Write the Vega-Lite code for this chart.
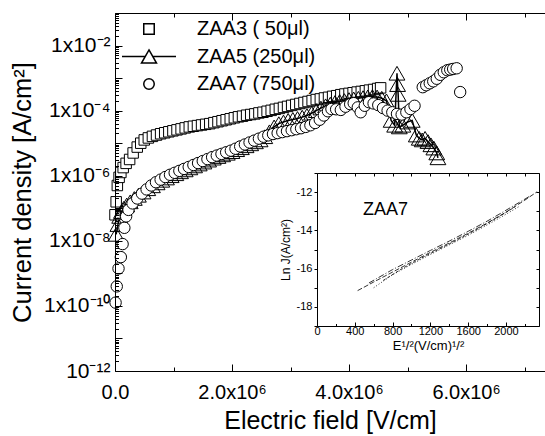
{
"$schema":"https://vega.github.io/schema/vega-lite/v6.json",
"width":430,"height":358,
"autosize":{"type":"none"},
"padding":{"left":115,"top":13,"right":0,"bottom":65},
"background":"white",
"config":{"view":{"stroke":null},"font":"Liberation Sans","axis":{"grid":false,"domain":true,"domainColor":"black","tickColor":"black","labelColor":"black","titleColor":"black","titleFontWeight":"normal","labelFont":"Liberation Sans","titleFont":"Liberation Sans","labelFlush":false,"labelOverlap":false}},
"datasets":{
"main":[
{"s":"ZAA3","x":0,"j":6.31e-8},{"s":"ZAA3","x":20000,"j":1.58e-7},{"s":"ZAA3","x":40000,"j":5.01e-7},{"s":"ZAA3","x":70000,"j":8.91e-7},{"s":"ZAA3","x":100000,"j":1.26e-6},{"s":"ZAA3","x":140000,"j":1.78e-6},{"s":"ZAA3","x":190000,"j":2.4e-6},{"s":"ZAA3","x":250000,"j":3.16e-6},{"s":"ZAA3","x":310000,"j":5.01e-6},{"s":"ZAA3","x":380000,"j":7.59e-6},{"s":"ZAA3","x":440000,"j":1.0e-5},{"s":"ZAA3","x":500000,"j":1.26e-5},{"s":"ZAA3","x":570000,"j":1.45e-5},{"s":"ZAA3","x":640000,"j":1.62e-5},{"s":"ZAA3","x":710000,"j":1.78e-5},{"s":"ZAA3","x":780000,"j":1.95e-5},{"s":"ZAA3","x":850000,"j":2.09e-5},{"s":"ZAA3","x":920000,"j":2.24e-5},{"s":"ZAA3","x":990000,"j":2.4e-5},{"s":"ZAA3","x":1060000,"j":2.57e-5},{"s":"ZAA3","x":1130000,"j":2.75e-5},{"s":"ZAA3","x":1200000,"j":2.95e-5},{"s":"ZAA3","x":1270000,"j":3.16e-5},{"s":"ZAA3","x":1340000,"j":3.31e-5},{"s":"ZAA3","x":1410000,"j":3.47e-5},{"s":"ZAA3","x":1480000,"j":3.63e-5},{"s":"ZAA3","x":1550000,"j":3.8e-5},{"s":"ZAA3","x":1620000,"j":3.98e-5},{"s":"ZAA3","x":1690000,"j":4.27e-5},{"s":"ZAA3","x":1760000,"j":4.57e-5},{"s":"ZAA3","x":1830000,"j":4.9e-5},{"s":"ZAA3","x":1900000,"j":5.25e-5},{"s":"ZAA3","x":1970000,"j":5.62e-5},{"s":"ZAA3","x":2040000,"j":6.03e-5},{"s":"ZAA3","x":2110000,"j":6.46e-5},{"s":"ZAA3","x":2180000,"j":6.76e-5},{"s":"ZAA3","x":2250000,"j":7.24e-5},{"s":"ZAA3","x":2320000,"j":7.59e-5},{"s":"ZAA3","x":2390000,"j":7.94e-5},{"s":"ZAA3","x":2460000,"j":8.51e-5},{"s":"ZAA3","x":2530000,"j":8.91e-5},{"s":"ZAA3","x":2600000,"j":9.55e-5},{"s":"ZAA3","x":2670000,"j":1.02e-4},{"s":"ZAA3","x":2740000,"j":1.1e-4},{"s":"ZAA3","x":2810000,"j":1.17e-4},{"s":"ZAA3","x":2880000,"j":1.26e-4},{"s":"ZAA3","x":2950000,"j":1.35e-4},{"s":"ZAA3","x":3020000,"j":1.45e-4},{"s":"ZAA3","x":3090000,"j":1.55e-4},{"s":"ZAA3","x":3160000,"j":1.66e-4},{"s":"ZAA3","x":3230000,"j":1.78e-4},{"s":"ZAA3","x":3300000,"j":1.91e-4},{"s":"ZAA3","x":3370000,"j":2.04e-4},{"s":"ZAA3","x":3440000,"j":2.19e-4},{"s":"ZAA3","x":3510000,"j":2.29e-4},{"s":"ZAA3","x":3580000,"j":2.45e-4},{"s":"ZAA3","x":3650000,"j":2.57e-4},{"s":"ZAA3","x":3720000,"j":2.75e-4},{"s":"ZAA3","x":3790000,"j":2.88e-4},{"s":"ZAA3","x":3860000,"j":3.09e-4},{"s":"ZAA3","x":3930000,"j":3.24e-4},{"s":"ZAA3","x":4000000,"j":3.39e-4},{"s":"ZAA3","x":4070000,"j":3.55e-4},{"s":"ZAA3","x":4140000,"j":3.72e-4},{"s":"ZAA3","x":4210000,"j":3.89e-4},{"s":"ZAA3","x":4280000,"j":4.07e-4},{"s":"ZAA3","x":4350000,"j":4.27e-4},{"s":"ZAA3","x":4420000,"j":4.47e-4},{"s":"ZAA3","x":4490000,"j":4.79e-4},{"s":"ZAA3","x":4540000,"j":5.01e-4},
{"s":"ZAA5","x":20000,"j":1.58e-8},{"s":"ZAA5","x":50000,"j":3.16e-8},{"s":"ZAA5","x":80000,"j":5.62e-8},{"s":"ZAA5","x":110000,"j":7.94e-8},{"s":"ZAA5","x":150000,"j":1.0e-7},{"s":"ZAA5","x":200000,"j":1.26e-7},{"s":"ZAA5","x":260000,"j":1.58e-7},{"s":"ZAA5","x":330000,"j":2.0e-7},{"s":"ZAA5","x":400000,"j":2.51e-7},{"s":"ZAA5","x":480000,"j":3.16e-7},{"s":"ZAA5","x":560000,"j":3.98e-7},{"s":"ZAA5","x":640000,"j":4.9e-7},{"s":"ZAA5","x":720000,"j":6.03e-7},{"s":"ZAA5","x":800000,"j":7.24e-7},{"s":"ZAA5","x":880000,"j":8.51e-7},{"s":"ZAA5","x":960000,"j":1.0e-6},{"s":"ZAA5","x":1040000,"j":1.15e-6},{"s":"ZAA5","x":1120000,"j":1.32e-6},{"s":"ZAA5","x":1200000,"j":1.51e-6},{"s":"ZAA5","x":1280000,"j":1.74e-6},{"s":"ZAA5","x":1360000,"j":2.0e-6},{"s":"ZAA5","x":1440000,"j":2.29e-6},{"s":"ZAA5","x":1520000,"j":2.63e-6},{"s":"ZAA5","x":1600000,"j":3.02e-6},{"s":"ZAA5","x":1680000,"j":3.47e-6},{"s":"ZAA5","x":1760000,"j":3.89e-6},{"s":"ZAA5","x":1840000,"j":4.37e-6},{"s":"ZAA5","x":1920000,"j":4.9e-6},{"s":"ZAA5","x":2000000,"j":5.5e-6},{"s":"ZAA5","x":2080000,"j":6.31e-6},{"s":"ZAA5","x":2160000,"j":7.24e-6},{"s":"ZAA5","x":2240000,"j":8.32e-6},{"s":"ZAA5","x":2320000,"j":9.55e-6},{"s":"ZAA5","x":2400000,"j":1.1e-5},{"s":"ZAA5","x":2480000,"j":1.26e-5},{"s":"ZAA5","x":2560000,"j":1.58e-5},{"s":"ZAA5","x":2640000,"j":2.24e-5},{"s":"ZAA5","x":2720000,"j":3.16e-5},{"s":"ZAA5","x":2800000,"j":3.98e-5},{"s":"ZAA5","x":2880000,"j":4.47e-5},{"s":"ZAA5","x":2960000,"j":5.01e-5},{"s":"ZAA5","x":3040000,"j":5.37e-5},{"s":"ZAA5","x":3120000,"j":5.75e-5},{"s":"ZAA5","x":3200000,"j":6.31e-5},{"s":"ZAA5","x":3280000,"j":7.08e-5},{"s":"ZAA5","x":3360000,"j":8.32e-5},{"s":"ZAA5","x":3440000,"j":1.0e-4},{"s":"ZAA5","x":3520000,"j":1.2e-4},{"s":"ZAA5","x":3600000,"j":1.41e-4},{"s":"ZAA5","x":3680000,"j":1.58e-4},{"s":"ZAA5","x":3760000,"j":1.78e-4},{"s":"ZAA5","x":3840000,"j":1.91e-4},{"s":"ZAA5","x":3920000,"j":2.04e-4},{"s":"ZAA5","x":4000000,"j":2.19e-4},{"s":"ZAA5","x":4080000,"j":2.29e-4},{"s":"ZAA5","x":4160000,"j":2.4e-4},{"s":"ZAA5","x":4240000,"j":2.51e-4},{"s":"ZAA5","x":4320000,"j":2.63e-4},{"s":"ZAA5","x":4400000,"j":2.69e-4},{"s":"ZAA5","x":4480000,"j":2.63e-4},{"s":"ZAA5","x":4560000,"j":2.4e-4},{"s":"ZAA5","x":4640000,"j":2.0e-4},{"s":"ZAA5","x":4720000,"j":5.01e-5},{"s":"ZAA5","x":4780000,"j":3.55e-5},{"s":"ZAA5","x":4820000,"j":1.41e-3},{"s":"ZAA5","x":4830000,"j":6.31e-4},{"s":"ZAA5","x":4840000,"j":3.16e-4},{"s":"ZAA5","x":4860000,"j":3.16e-5},{"s":"ZAA5","x":4920000,"j":3.55e-5},{"s":"ZAA5","x":5000000,"j":4.47e-5},{"s":"ZAA5","x":5080000,"j":5.01e-5},{"s":"ZAA5","x":5150000,"j":1.78e-5},{"s":"ZAA5","x":5200000,"j":1.41e-5},{"s":"ZAA5","x":5250000,"j":1.26e-5},{"s":"ZAA5","x":5300000,"j":1.41e-5},{"s":"ZAA5","x":5350000,"j":1.12e-5},{"s":"ZAA5","x":5400000,"j":8.91e-6},{"s":"ZAA5","x":5450000,"j":7.08e-6},{"s":"ZAA5","x":5500000,"j":5.01e-6},{"s":"ZAA5","x":5520000,"j":3.55e-6},
{"s":"ZAA7","x":10000,"j":1.26e-10},{"s":"ZAA7","x":30000,"j":3.98e-10},{"s":"ZAA7","x":60000,"j":1.41e-9},{"s":"ZAA7","x":100000,"j":3.16e-9},{"s":"ZAA7","x":130000,"j":7.94e-9},{"s":"ZAA7","x":160000,"j":2.51e-8},{"s":"ZAA7","x":190000,"j":5.62e-8},{"s":"ZAA7","x":230000,"j":8.91e-8},{"s":"ZAA7","x":300000,"j":1.41e-7},{"s":"ZAA7","x":380000,"j":2.0e-7},{"s":"ZAA7","x":460000,"j":2.82e-7},{"s":"ZAA7","x":540000,"j":3.8e-7},{"s":"ZAA7","x":620000,"j":5.01e-7},{"s":"ZAA7","x":700000,"j":6.31e-7},{"s":"ZAA7","x":780000,"j":7.59e-7},{"s":"ZAA7","x":860000,"j":9.12e-7},{"s":"ZAA7","x":940000,"j":1.07e-6},{"s":"ZAA7","x":1020000,"j":1.23e-6},{"s":"ZAA7","x":1100000,"j":1.41e-6},{"s":"ZAA7","x":1180000,"j":1.62e-6},{"s":"ZAA7","x":1260000,"j":1.86e-6},{"s":"ZAA7","x":1340000,"j":2.14e-6},{"s":"ZAA7","x":1420000,"j":2.45e-6},{"s":"ZAA7","x":1500000,"j":2.82e-6},{"s":"ZAA7","x":1580000,"j":3.24e-6},{"s":"ZAA7","x":1660000,"j":3.72e-6},{"s":"ZAA7","x":1740000,"j":4.17e-6},{"s":"ZAA7","x":1820000,"j":4.68e-6},{"s":"ZAA7","x":1900000,"j":5.25e-6},{"s":"ZAA7","x":1980000,"j":5.89e-6},{"s":"ZAA7","x":2060000,"j":6.76e-6},{"s":"ZAA7","x":2140000,"j":7.94e-6},{"s":"ZAA7","x":2220000,"j":9.12e-6},{"s":"ZAA7","x":2300000,"j":1.05e-5},{"s":"ZAA7","x":2380000,"j":1.2e-5},{"s":"ZAA7","x":2460000,"j":1.38e-5},{"s":"ZAA7","x":2540000,"j":1.58e-5},{"s":"ZAA7","x":2620000,"j":1.74e-5},{"s":"ZAA7","x":2700000,"j":1.91e-5},{"s":"ZAA7","x":2780000,"j":2.04e-5},{"s":"ZAA7","x":2860000,"j":2.19e-5},{"s":"ZAA7","x":2940000,"j":2.34e-5},{"s":"ZAA7","x":3020000,"j":2.51e-5},{"s":"ZAA7","x":3100000,"j":2.69e-5},{"s":"ZAA7","x":3180000,"j":2.88e-5},{"s":"ZAA7","x":3260000,"j":3.16e-5},{"s":"ZAA7","x":3340000,"j":3.55e-5},{"s":"ZAA7","x":3420000,"j":4.17e-5},{"s":"ZAA7","x":3500000,"j":5.25e-5},{"s":"ZAA7","x":3570000,"j":7.08e-5},{"s":"ZAA7","x":3640000,"j":9.55e-5},{"s":"ZAA7","x":3700000,"j":1.12e-4},{"s":"ZAA7","x":3780000,"j":1.1e-4},{"s":"ZAA7","x":3860000,"j":1.05e-4},{"s":"ZAA7","x":3940000,"j":1.32e-4},{"s":"ZAA7","x":4020000,"j":1.58e-4},{"s":"ZAA7","x":4080000,"j":1.7e-4},{"s":"ZAA7","x":4150000,"j":1.26e-4},{"s":"ZAA7","x":4200000,"j":8.91e-5},{"s":"ZAA7","x":4270000,"j":1.41e-4},{"s":"ZAA7","x":4340000,"j":1.82e-4},{"s":"ZAA7","x":4420000,"j":1.66e-4},{"s":"ZAA7","x":4500000,"j":1.48e-4},{"s":"ZAA7","x":4580000,"j":1.2e-4},{"s":"ZAA7","x":4660000,"j":1.0e-4},{"s":"ZAA7","x":4740000,"j":8.91e-5},{"s":"ZAA7","x":4820000,"j":7.94e-5},{"s":"ZAA7","x":4900000,"j":7.59e-5},{"s":"ZAA7","x":4980000,"j":8.91e-5},{"s":"ZAA7","x":5050000,"j":1.12e-4},{"s":"ZAA7","x":5120000,"j":1.41e-4},{"s":"ZAA7","x":5260000,"j":5.25e-4},{"s":"ZAA7","x":5320000,"j":6.03e-4},{"s":"ZAA7","x":5380000,"j":6.92e-4},{"s":"ZAA7","x":5440000,"j":7.94e-4},{"s":"ZAA7","x":5500000,"j":9.55e-4},{"s":"ZAA7","x":5560000,"j":1.26e-3},{"s":"ZAA7","x":5620000,"j":1.51e-3},{"s":"ZAA7","x":5680000,"j":1.74e-3},{"s":"ZAA7","x":5730000,"j":1.82e-3},{"s":"ZAA7","x":5780000,"j":1.91e-3},{"s":"ZAA7","x":5840000,"j":2.0e-3},{"s":"ZAA7","x":5900000,"j":3.72e-4}
],
"ins":[
{"k":"a","e":430,"l":-17.15},{"k":"a","e":600,"l":-16.7},{"k":"a","e":800,"l":-16.18},{"k":"a","e":1000,"l":-15.66},{"k":"a","e":1200,"l":-15.15},{"k":"a","e":1400,"l":-14.66},{"k":"a","e":1600,"l":-14.15},{"k":"a","e":1800,"l":-13.62},{"k":"a","e":2000,"l":-13.05},{"k":"a","e":2200,"l":-12.42},{"k":"a","e":2330,"l":-11.98},
{"k":"b","e":600,"l":-17.0},{"k":"b","e":800,"l":-16.32},{"k":"b","e":1000,"l":-15.78},{"k":"b","e":1200,"l":-15.26},{"k":"b","e":1400,"l":-14.76},{"k":"b","e":1600,"l":-14.26},{"k":"b","e":1800,"l":-13.72},{"k":"b","e":2000,"l":-13.16},{"k":"b","e":2150,"l":-12.72},
{"k":"c","e":550,"l":-16.75},{"k":"c","e":800,"l":-16.05},{"k":"c","e":1000,"l":-15.55},{"k":"c","e":1200,"l":-15.05},{"k":"c","e":1400,"l":-14.56},{"k":"c","e":1600,"l":-14.05},{"k":"c","e":1800,"l":-13.52},{"k":"c","e":2000,"l":-12.95},{"k":"c","e":2250,"l":-12.22},
{"k":"d","e":700,"l":-16.62},{"k":"d","e":900,"l":-16.0},{"k":"d","e":1100,"l":-15.46},{"k":"d","e":1300,"l":-14.96},{"k":"d","e":1500,"l":-14.46},{"k":"d","e":1700,"l":-13.93},{"k":"d","e":1900,"l":-13.36},{"k":"d","e":2100,"l":-12.76}
],
"lbl":[{"e":487,"l":-12.92,"t":"ZAA7"}]
},
"layer":[
{"data":{"name":"main"},"transform":[{"filter":"datum.s=='ZAA5'"}],
"mark":{"type":"line","color":"black","strokeWidth":1.5},
"encoding":{
"x":{"field":"x","type":"quantitative","scale":{"domain":[0,7350000],"nice":false,"zero":false},
"axis":{"orient":"top","values":[0,1000000,2000000,3000000,4000000,5000000,6000000,7000000],"labels":false,"title":null,"tickSize":{"condition":{"test":"datum.value % 2000000 == 0","value":-7},"value":-4}}},
"y":{"field":"j","type":"quantitative","scale":{"type":"log","domain":[1e-12,0.1],"nice":false},"axis":null}
}},
{"data":{"name":"main"},"transform":[{"filter":"datum.s=='ZAA3'"}],
"mark":{"type":"point","stroke":"black","fill":"white","strokeWidth":1,"opacity":1,"size":110},
"encoding":{
"x":{"field":"x","type":"quantitative","scale":{"domain":[0,7350000],"nice":false,"zero":false},
"axis":{"orient":"bottom","values":[0,1000000,2000000,3000000,4000000,5000000,6000000,7000000],
"labelExpr":"datum.value==0?'0.0':datum.value==2000000?'2.0x10⁶':datum.value==4000000?'4.0x10⁶':datum.value==6000000?'6.0x10⁶':''",
"labelFontSize":20,"labelPadding":18,"domain":true,"domainColor":"black","domainWidth":1,"tickColor":"black",
"tickSize":{"condition":{"test":"datum.value % 2000000 == 0","value":-7},"value":-4},
"title":"Electric field [V/cm]","titleFontSize":25,"titlePadding":3}},
"y":{"field":"j","type":"quantitative","scale":{"type":"log","domain":[1e-12,0.1],"nice":false},
"axis":{"orient":"left","zindex":1,"values":[1e-12,2e-12,3e-12,4e-12,5e-12,6e-12,7e-12,8e-12,9e-12,1e-11,2e-11,3e-11,4e-11,5e-11,6e-11,7e-11,8e-11,9e-11,1e-10,2e-10,3e-10,4e-10,5e-10,6e-10,7e-10,8e-10,9e-10,1e-9,2e-9,3e-9,4e-9,5e-9,6e-9,7e-9,8e-9,9e-9,1e-8,2e-8,3e-8,4e-8,5e-8,6e-8,7e-8,8e-8,9e-8,1e-7,2e-7,3e-7,4e-7,5e-7,6e-7,7e-7,8e-7,9e-7,1e-6,2e-6,3e-6,4e-6,5e-6,6e-6,7e-6,8e-6,9e-6,1e-5,2e-5,3e-5,4e-5,5e-5,6e-5,7e-5,8e-5,9e-5,1e-4,2e-4,3e-4,4e-4,5e-4,6e-4,7e-4,8e-4,9e-4,1e-3,2e-3,3e-3,4e-3,5e-3,6e-3,7e-3,8e-3,9e-3,1e-2,2e-2,3e-2,4e-2,5e-2,6e-2,7e-2,8e-2,9e-2,1e-1],
"labelExpr":"datum.value==0.01?'1x10⁻²':datum.value==0.0001?'1x10⁻⁴':datum.value==0.000001?'1x10⁻⁶':datum.value==1e-8?'1x10⁻⁸':datum.value==1e-10?'1x10⁻¹⁰':datum.value==1e-12?'10⁻¹²':''",
"labelFontSize":21,"labelPadding":12,"labelOverlap":false,
"tickSize":{"condition":{"test":"abs(log(datum.value)/LN10-round(log(datum.value)/LN10))<0.001","value":-7},"value":-3.5},
"title":"Current density [A/cm²]","titleFontSize":25.5,"titlePadding":8}},
"shape":{"field":"s","type":"nominal","scale":{"domain":["ZAA3","ZAA5","ZAA7"],"range":["square","M-5.15,0H-0.72M0.72,0H5.15M0,-1.24L1.43,1.24H-1.43Z","circle"]},
"legend":{"orient":"none","legendX":24,"legendY":6,"title":null,"labelFontSize":20,"labelColor":"black","symbolSize":110,"rowPadding":7.5,"labelOffset":38,
"labelExpr":"datum.value=='ZAA3'?'ZAA3 (  50μl)':datum.value=='ZAA5'?'ZAA5 (250μl)':'ZAA7 (750μl)'",
"encode":{"symbols":{"update":{"stroke":{"value":"black"},"fill":{"value":"white"},"strokeWidth":{"value":1},"opacity":{"value":1}}}}}}
}},
{"data":{"name":"main"},"transform":[{"filter":"datum.s=='ZAA5'"}],
"mark":{"type":"point","shape":"triangle-up","stroke":"black","strokeWidth":1,"opacity":1,"size":250},
"encoding":{
"x":{"field":"x","type":"quantitative","scale":{"domain":[0,7350000],"nice":false,"zero":false},"axis":null},
"y":{"field":"j","type":"quantitative","scale":{"type":"log","domain":[1e-12,0.1],"nice":false},"axis":null}
}},
{"data":{"name":"main"},"transform":[{"filter":"datum.s=='ZAA7'"}],
"mark":{"type":"point","stroke":"black","fill":"white","strokeWidth":1,"opacity":1,"size":130},
"encoding":{
"x":{"field":"x","type":"quantitative","scale":{"domain":[0,7350000],"nice":false,"zero":false},"axis":null},
"y":{"field":"j","type":"quantitative","scale":{"type":"log","domain":[1e-12,0.1],"nice":false},"axis":null},
"shape":{"field":"s","type":"nominal","scale":{"domain":["ZAA3","ZAA5","ZAA7"],"range":["square","M-5.15,0H-0.72M0.72,0H5.15M0,-1.24L1.43,1.24H-1.43Z","circle"]}}
}},
{"data":{"name":"ins"},
"mark":{"type":"line","color":"black","strokeWidth":0.8},
"encoding":{
"x":{"field":"e","type":"quantitative","scale":{"domain":[0,2350],"range":[202,424],"nice":false,"zero":false},
"axis":{"orient":"bottom","offset":-45,"values":[0,200,400,600,800,1000,1200,1400,1600,1800,2000,2200],"labelExpr":"datum.value%400==0?datum.value+'':''","labelFontSize":11,"labelPadding":3,"tickSize":{"condition":{"test":"datum.value%400==0","value":-4},"value":-2.5},"title":"E¹/²(V/cm)¹/²","titleFontSize":13,"titlePadding":2}},
"y":{"field":"l","type":"quantitative","scale":{"domain":[-19,-11],"range":[313,160],"nice":false,"zero":false},
"axis":{"orient":"left","offset":-202,"values":[-19,-18,-17,-16,-15,-14,-13,-12,-11],"labelExpr":"datum.value%2==0?datum.value+'':''","labelFontSize":11,"labelPadding":2,"tickSize":3,"title":"Ln J(A/cm²)","titleFontSize":12,"titlePadding":4}},
"strokeDash":{"field":"k","type":"nominal","scale":{"domain":["a","b","c","d"],"range":[[5,2],[1,2],[6,2,1,2],[3,2]]},"legend":null}
}},
{"data":{"name":"lbl"},
"mark":{"type":"text","align":"left","baseline":"middle","fontSize":18,"font":"Liberation Sans","color":"black"},
"encoding":{
"text":{"field":"t"},
"x":{"field":"e","type":"quantitative","scale":{"domain":[0,2350],"range":[202,424],"nice":false,"zero":false},
"axis":{"orient":"top","offset":-160,"values":[0,200,400,600,800,1000,1200,1400,1600,1800,2000,2200],"labels":false,"title":null,"tickSize":-3}},
"y":{"field":"l","type":"quantitative","scale":{"domain":[-19,-11],"range":[313,160],"nice":false,"zero":false},
"axis":{"orient":"right","offset":-6,"values":[-19,-18,-17,-16,-15,-14,-13,-12,-11],"labels":false,"title":null,"tickSize":-3}}
}}
],
"resolve":{"scale":{"x":"independent","y":"independent"},"axis":{"x":"independent","y":"independent"}}
}
